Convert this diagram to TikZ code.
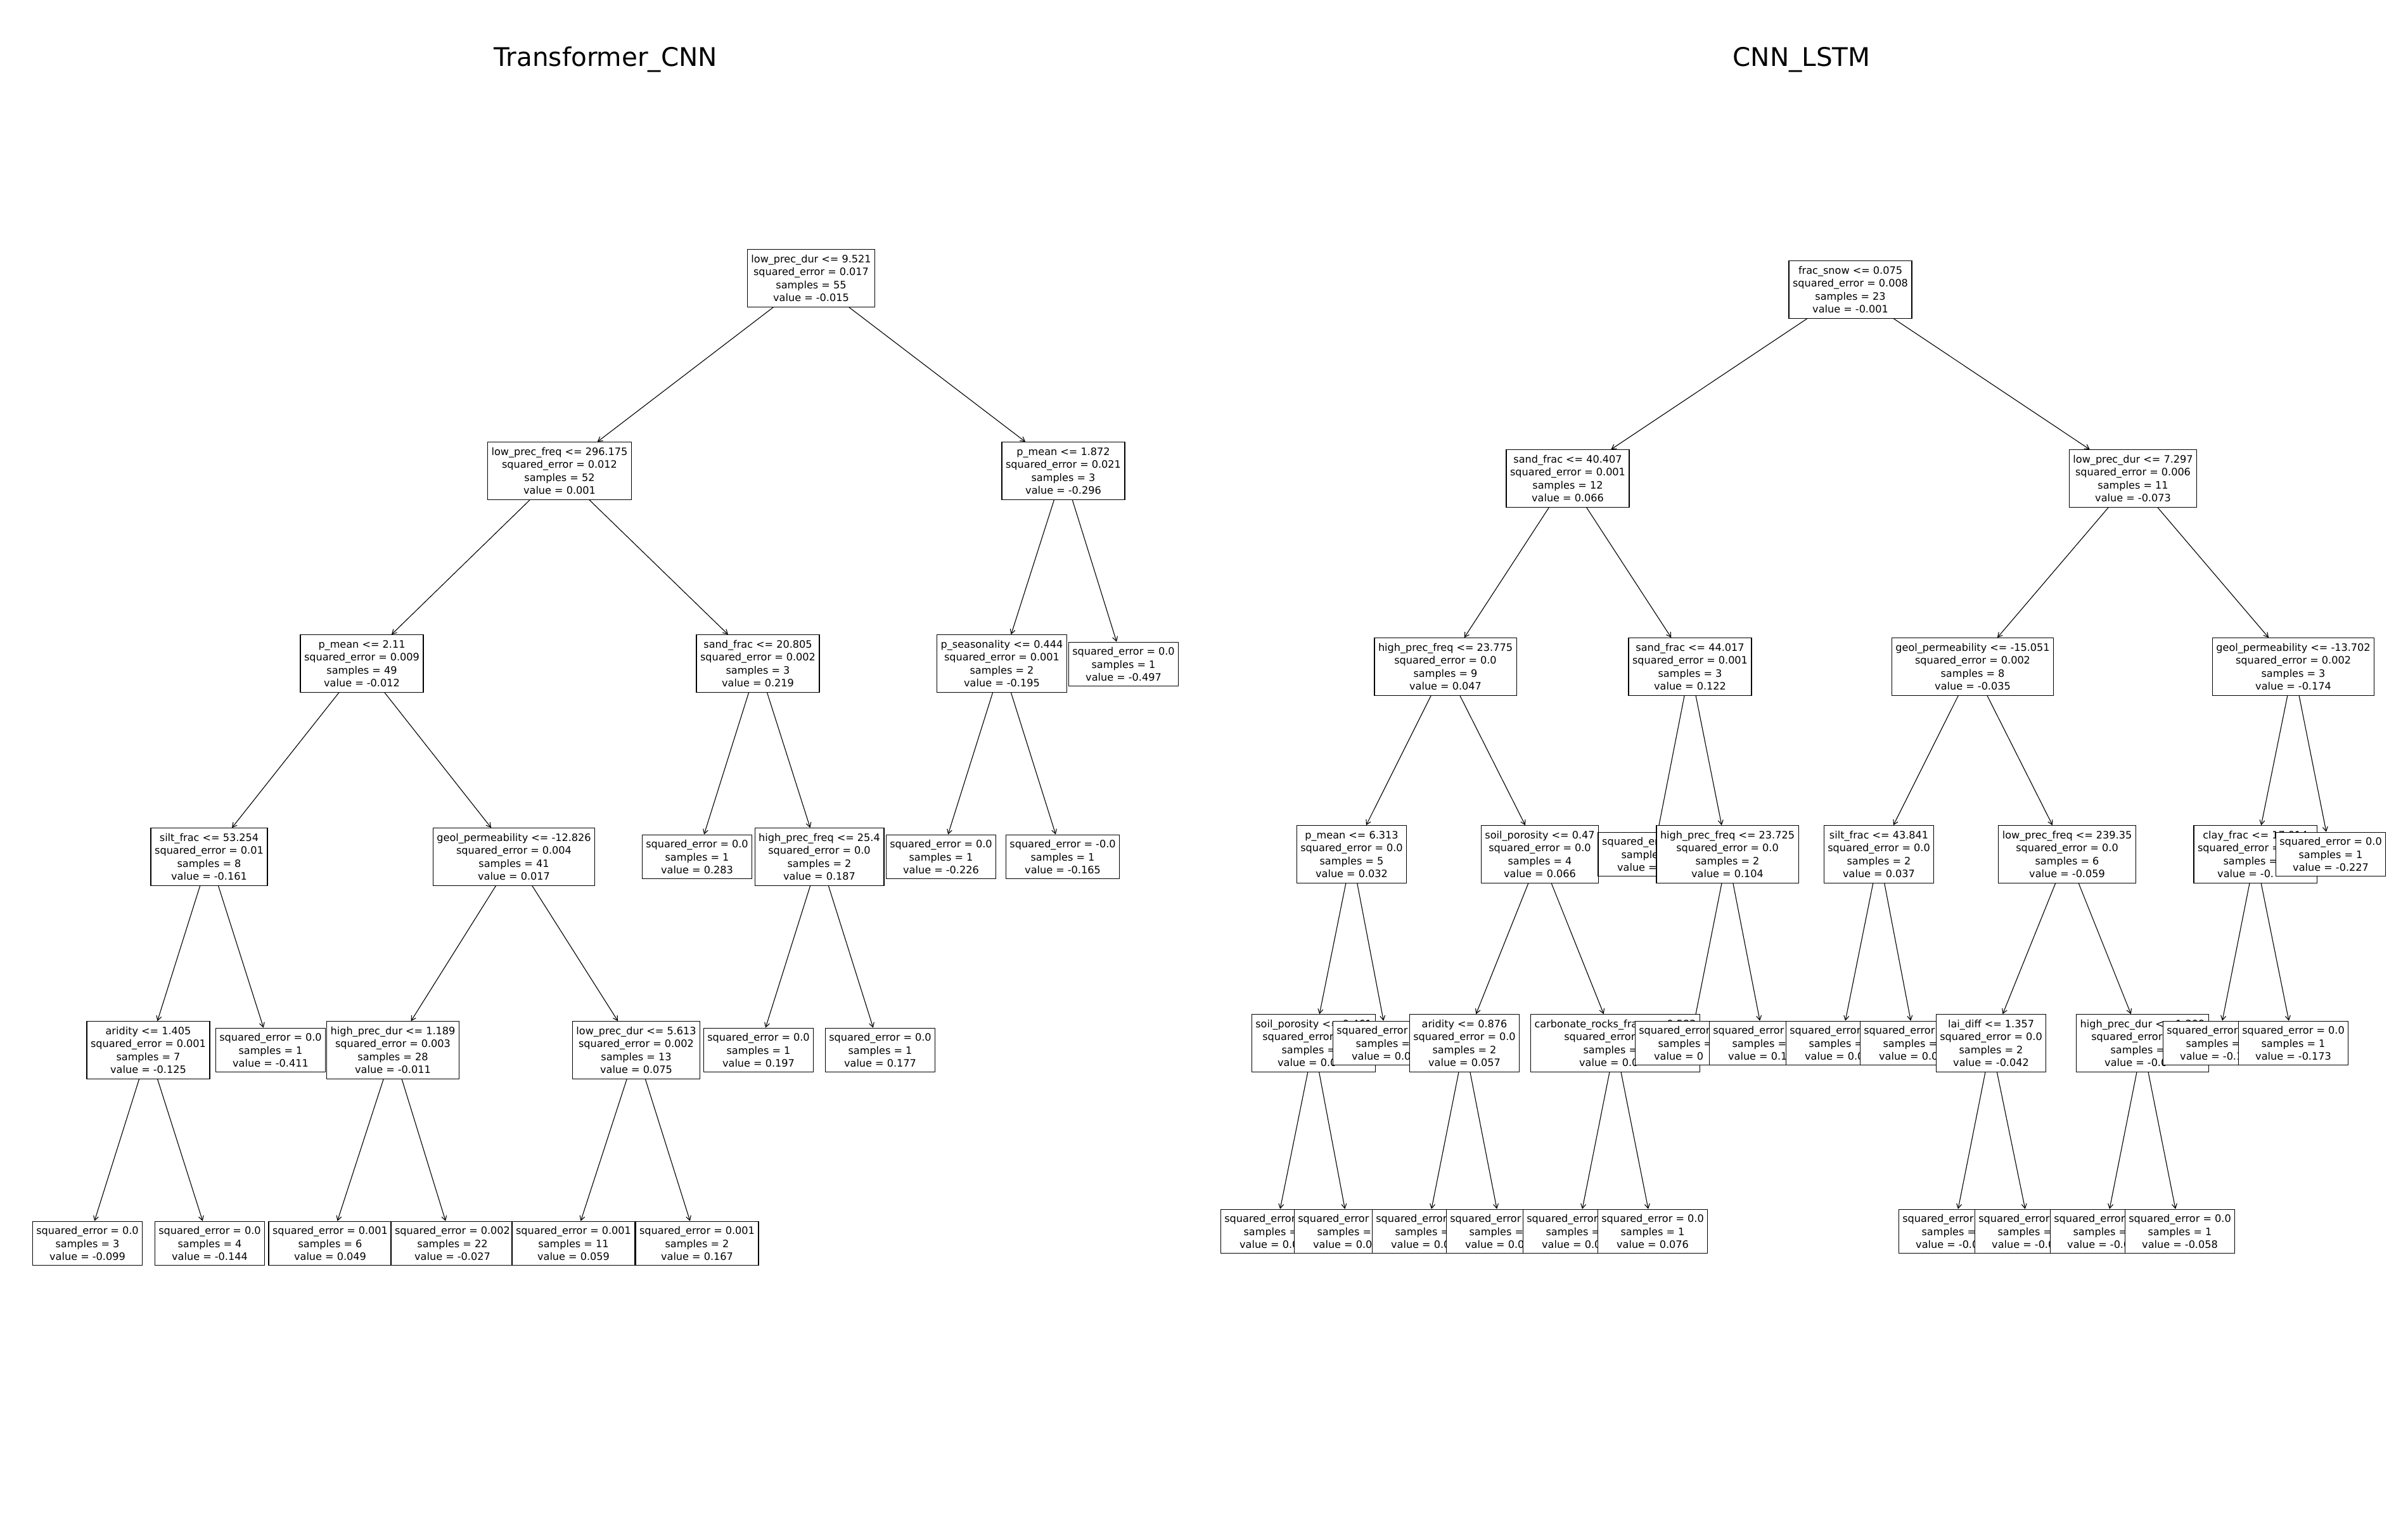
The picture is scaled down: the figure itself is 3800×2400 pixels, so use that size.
\documentclass[tikz,border=0pt]{standalone}
\usepackage{fontspec}
\setmainfont{DejaVu Sans}
\usetikzlibrary{shapes,backgrounds,arrows.meta}
\newcommand{\treefont}{\fontsize{16.1}{20.4}\selectfont}
\newcommand{\titlefont}{\fontsize{40.5}{48}\selectfont}

\tikzset{
  box/.style={draw=black, fill=white, line width=1.2pt, inner xsep=6.1pt, inner ysep=0pt, align=center, font=\treefont},
  split/.style={box, minimum height=90.5pt},
  leaf/.style={box, minimum height=69.5pt},
  arr/.style={line width=1.1pt, -{Straight Barb[length=7pt,width=8pt]}},
  title/.style={font=\titlefont, anchor=base}
}

\begin{document}
\begin{tikzpicture}[x=1pt, y=-1pt]
    \useasboundingbox (0,0) rectangle (3800,2400);

    \node[title] (ttlT) at (956,105) {Transformer\_CNN};
    \node[title] (ttlC) at (2843,105) {CNN\_LSTM};

    % Transformer_CNN
    \node[split] (t0) at (1280,439) {low\_prec\_dur <= 9.521\\squared\_error = 0.017\\samples = 55\\value = -0.015};
    \node[split] (t1) at (883,743) {low\_prec\_freq <= 296.175\\squared\_error = 0.012\\samples = 52\\value = 0.001};
    \node[split] (t2) at (571,1047) {p\_mean <= 2.11\\squared\_error = 0.009\\samples = 49\\value = -0.012};
    \node[split] (t3) at (330,1352) {silt\_frac <= 53.254\\squared\_error = 0.01\\samples = 8\\value = -0.161};
    \node[split] (t4) at (234,1657) {aridity <= 1.405\\squared\_error = 0.001\\samples = 7\\value = -0.125};
    \node[leaf] (t5) at (138,1962) {squared\_error = 0.0\\samples = 3\\value = -0.099};
    \node[leaf] (t6) at (331,1962) {squared\_error = 0.0\\samples = 4\\value = -0.144};
    \node[leaf] (t7) at (427,1657) {squared\_error = 0.0\\samples = 1\\value = -0.411};
    \node[split] (t8) at (811,1352) {geol\_permeability <= -12.826\\squared\_error = 0.004\\samples = 41\\value = 0.017};
    \node[split] (t9) at (620,1657) {high\_prec\_dur <= 1.189\\squared\_error = 0.003\\samples = 28\\value = -0.011};
    \node[leaf] (t10) at (521,1962) {squared\_error = 0.001\\samples = 6\\value = 0.049};
    \node[leaf] (t11) at (714,1962) {squared\_error = 0.002\\samples = 22\\value = -0.027};
    \node[split] (t12) at (1004,1657) {low\_prec\_dur <= 5.613\\squared\_error = 0.002\\samples = 13\\value = 0.075};
    \node[leaf] (t13) at (905,1962) {squared\_error = 0.001\\samples = 11\\value = 0.059};
    \node[leaf] (t14) at (1100,1962) {squared\_error = 0.001\\samples = 2\\value = 0.167};
    \node[split] (t15) at (1196,1047) {sand\_frac <= 20.805\\squared\_error = 0.002\\samples = 3\\value = 0.219};
    \node[leaf] (t16) at (1100,1352) {squared\_error = 0.0\\samples = 1\\value = 0.283};
    \node[split] (t17) at (1293,1352) {high\_prec\_freq <= 25.4\\squared\_error = 0.0\\samples = 2\\value = 0.187};
    \node[leaf] (t18) at (1197,1657) {squared\_error = 0.0\\samples = 1\\value = 0.197};
    \node[leaf] (t19) at (1389,1657) {squared\_error = 0.0\\samples = 1\\value = 0.177};
    \node[split] (t20) at (1678,743) {p\_mean <= 1.872\\squared\_error = 0.021\\samples = 3\\value = -0.296};
    \node[split] (t21) at (1581,1047) {p\_seasonality <= 0.444\\squared\_error = 0.001\\samples = 2\\value = -0.195};
    \node[leaf] (t22) at (1485,1352) {squared\_error = 0.0\\samples = 1\\value = -0.226};
    \node[leaf] (t23) at (1677,1352) {squared\_error = -0.0\\samples = 1\\value = -0.165};
    \node[leaf] (t24) at (1773,1048) {squared\_error = 0.0\\samples = 1\\value = -0.497};

    % CNN_LSTM (later boxes lie over earlier ones)
    \node[split] (c0) at (2920,457) {frac\_snow <= 0.075\\squared\_error = 0.008\\samples = 23\\value = -0.001};
    \node[split] (c1) at (2474,755) {sand\_frac <= 40.407\\squared\_error = 0.001\\samples = 12\\value = 0.066};
    \node[split] (c2) at (2281,1052) {high\_prec\_freq <= 23.775\\squared\_error = 0.0\\samples = 9\\value = 0.047};
    \node[split] (c3) at (2133,1348) {p\_mean <= 6.313\\squared\_error = 0.0\\samples = 5\\value = 0.032};
    \node[split] (c4) at (2073,1646) {soil\_porosity <= 0.461\\squared\_error\phantom{ = 0.0}\\samples =\phantom{ 3}\\value = 0.0\phantom{00}};
    \node[leaf] (c5) at (2013,1943) {squared\_error\phantom{ = 0.0}\\samples =\phantom{ 1}\\value = 0.0\phantom{00}};
    \node[leaf] (c6) at (2129,1943) {squared\_error\phantom{ = 0.0}\\samples =\phantom{ 1}\\value = 0.0\phantom{00}};
    \node[leaf] (c7) at (2190,1646) {squared\_error\phantom{ = 0.0}\\samples =\phantom{ 1}\\value = 0.0\phantom{00}};
    \node[split] (c8) at (2430,1348) {soil\_porosity <= 0.47\\squared\_error = 0.0\\samples = 4\\value = 0.066};
    \node[split] (c9) at (2311,1646) {aridity <= 0.876\\squared\_error = 0.0\\samples = 2\\value = 0.057};
    \node[leaf] (c10) at (2252,1943) {squared\_error\phantom{ = 0.0}\\samples =\phantom{ 1}\\value = 0.0\phantom{00}};
    \node[leaf] (c11) at (2369,1943) {squared\_error\phantom{ = 0.0}\\samples =\phantom{ 1}\\value = 0.0\phantom{00}};
    \node[split] (c12) at (2549,1646) {carbonate\_rocks\_frac <= 0.583\\squared\_error\phantom{ = 0.0}\\samples =\phantom{ 2}\\value = 0.0\phantom{00}};
    \node[leaf] (c13) at (2490,1943) {squared\_error\phantom{ = 0.0}\\samples =\phantom{ 1}\\value = 0.0\phantom{00}};
    \node[leaf] (c14) at (2608,1943) {squared\_error = 0.0\\samples = 1\\value = 0.076};
    \node[split] (c15) at (2667,1052) {sand\_frac <= 44.017\\squared\_error = 0.001\\samples = 3\\value = 0.122};
    \node[leaf] (c16) at (2609,1348) {squared\_er\phantom{ror = 0.0}\\sample\phantom{s = 1}\\value =\phantom{ 0.000}};
    \node[split] (c17) at (2726,1348) {high\_prec\_freq <= 23.725\\squared\_error = 0.0\\samples = 2\\value = 0.104};
    \node[leaf] (c18) at (2667,1646) {squared\_error\phantom{ = 0.0}\\samples =\phantom{ 1}\\value = 0\phantom{.000}};
    \node[leaf] (c19) at (2784,1646) {squared\_error\phantom{ = 0.0}\\samples =\phantom{ 1}\\value = 0.1\phantom{00}};
    \node[split] (c20) at (3366,755) {low\_prec\_dur <= 7.297\\squared\_error = 0.006\\samples = 11\\value = -0.073};
    \node[split] (c21) at (3113,1052) {geol\_permeability <= -15.051\\squared\_error = 0.002\\samples = 8\\value = -0.035};
    \node[split] (c22) at (2965,1348) {silt\_frac <= 43.841\\squared\_error = 0.0\\samples = 2\\value = 0.037};
    \node[leaf] (c23) at (2905,1646) {squared\_error\phantom{ = 0.0}\\samples =\phantom{ 1}\\value = 0.0\phantom{00}};
    \node[leaf] (c24) at (3022,1646) {squared\_error\phantom{ = 0.0}\\samples =\phantom{ 1}\\value = 0.0\phantom{00}};
    \node[split] (c25) at (3262,1348) {low\_prec\_freq <= 239.35\\squared\_error = 0.0\\samples = 6\\value = -0.059};
    \node[split] (c26) at (3142,1646) {lai\_diff <= 1.357\\squared\_error = 0.0\\samples = 2\\value = -0.042};
    \node[leaf] (c27) at (3083,1943) {squared\_error\phantom{ = 0.0}\\samples =\phantom{ 1}\\value = -0.0\phantom{00}};
    \node[leaf] (c28) at (3203,1943) {squared\_error\phantom{ = 0.0}\\samples =\phantom{ 1}\\value = -0.0\phantom{00}};
    \node[split] (c29) at (3381,1646) {high\_prec\_dur <= 1.309\\squared\_error\phantom{ = 0.0}\\samples =\phantom{ 4}\\value = -0.0\phantom{00}};
    \node[leaf] (c30) at (3322,1943) {squared\_error\phantom{ = 0.0}\\samples =\phantom{ 1}\\value = -0.0\phantom{00}};
    \node[leaf] (c31) at (3440,1943) {squared\_error = 0.0\\samples = 1\\value = -0.058};
    \node[split] (c32) at (3619,1052) {geol\_permeability <= -13.702\\squared\_error = 0.002\\samples = 3\\value = -0.174};
    \node[split] (c33) at (3559,1348) {clay\_frac <= 17.014\\squared\_error =\phantom{ 0.002}\\samples =\phantom{ 2}\\value = -0.\phantom{000}};
    \node[leaf] (c34) at (3500,1646) {squared\_error\phantom{ = 0.0}\\samples =\phantom{ 1}\\value = -0.1\phantom{00}};
    \node[leaf] (c35) at (3619,1646) {squared\_error = 0.0\\samples = 1\\value = -0.173};
    \node[leaf] (c36) at (3678,1348) {squared\_error = 0.0\\samples = 1\\value = -0.227};

    \begin{pgfonlayer}{background}
        \fill[white] (0,0) rectangle (3800,2400);
        \foreach \a/\b in {t0/t1, t1/t2, t2/t3, t3/t4, t4/t5, t4/t6, t3/t7, t2/t8, t8/t9, t9/t10, t9/t11, t8/t12, t12/t13, t12/t14, t1/t15, t15/t16, t15/t17, t17/t18, t17/t19, t0/t20, t20/t21, t21/t22, t21/t23, t20/t24}
            \draw[arr] (\a) -- (\b);
        \foreach \a/\b in {c0/c1, c1/c2, c2/c3, c3/c4, c4/c5, c4/c6, c3/c7, c2/c8, c8/c9, c9/c10, c9/c11, c8/c12, c12/c13, c12/c14, c1/c15, c15/c16, c15/c17, c17/c18, c17/c19, c0/c20, c20/c21, c21/c22, c22/c23, c22/c24, c21/c25, c25/c26, c26/c27, c26/c28, c25/c29, c29/c30, c29/c31, c20/c32, c32/c33, c33/c34, c33/c35, c32/c36}
            \draw[arr] (\a) -- (\b);
    \end{pgfonlayer}
\end{tikzpicture}
\end{document}
